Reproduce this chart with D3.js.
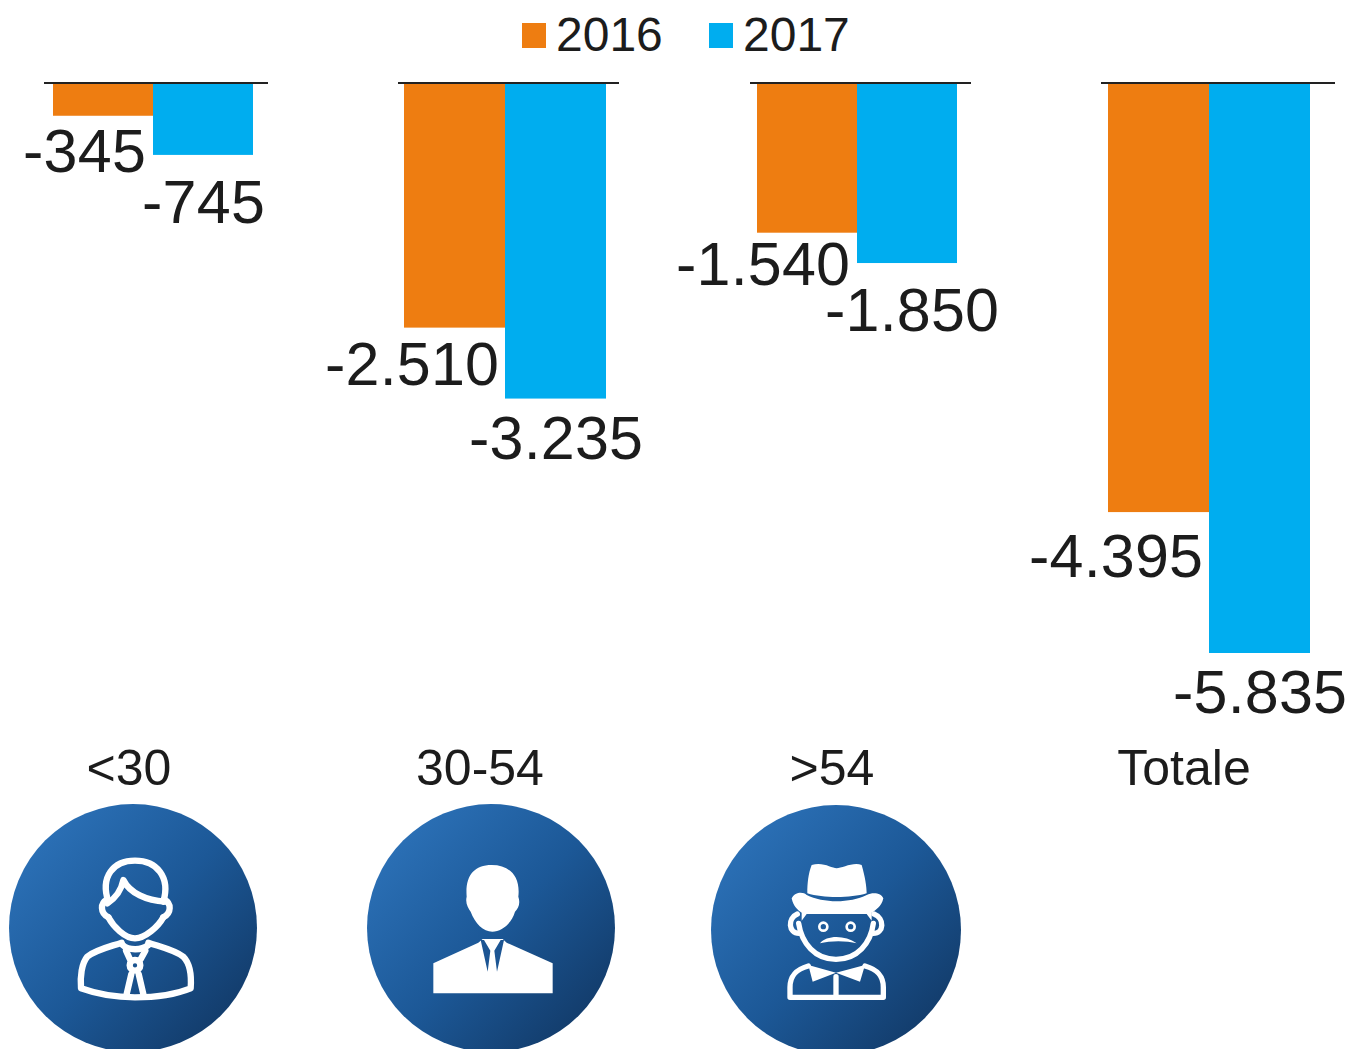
<!DOCTYPE html>
<html>
<head>
<meta charset="utf-8">
<script src="https://cdn.jsdelivr.net/npm/d3@7"></script>
<style>
  html, body { margin: 0; padding: 0; background: #fff; overflow: hidden; }
  svg { display: block; }
  text { font-family: "Liberation Sans", Arial, sans-serif; fill: #1c1c1c; }
</style>
</head>
<body>
<svg id="svg" width="1353" height="1049"></svg>
<script>
const categories = ['<30', '30-54', '>54', 'Totale'];
const years = ['2016', '2017'];
const values2016 = [-345, -2510, -1540, -4395];
const values2017 = [-745, -3235, -1850, -5835];

// layout, one entry per panel
const panelBars = [[53, 253], [404, 606], [757, 957], [1108, 1310]];
const panelLines = [[44, 268], [398, 619], [750, 971], [1101, 1335]];
const categoryX = [129, 480, 832, 1184];
// data labels were placed by hand in the original, [dx, dy] from the bar corner
const labelNudge2016 = [[-7, 56], [-6, 57], [-7, 52], [-6, 65]];
const labelNudge2017 = [[12, 68], [37, 60], [42, 68], [37, 60]];

const colors = d3.scaleOrdinal().domain(years).range(['#ee7d11', '#00adef']);
const fmt = d3.formatLocale({ decimal: ',', thousands: '.', grouping: [3], currency: ['', ''], minus: '-' }).format(',d');

const svg = d3.select('#svg');
const yScale = d3.scaleLinear().domain([0, -5835]).range([82, 653]);

const drawPanel = function(i) {
  const xScale = d3.scaleBand().domain(years).range(panelBars[i]);
  const g = svg.append('g').classed('panel', true);
  const rows = [
    { year: '2016', value: values2016[i], nudge: labelNudge2016[i] },
    { year: '2017', value: values2017[i], nudge: labelNudge2017[i] }
  ];

  g.selectAll('rect')
    .data(rows)
    .enter()
    .append('rect')
    .attr('x', d => xScale(d.year))
    .attr('y', yScale(0))
    .attr('width', xScale.bandwidth())
    .attr('height', d => yScale(d.value) - yScale(0))
    .attr('fill', d => colors(d.year));

  g.append('line')
    .attr('x1', panelLines[i][0])
    .attr('x2', panelLines[i][1])
    .attr('y1', 83)
    .attr('y2', 83)
    .attr('stroke', '#222')
    .attr('stroke-width', 2);

  g.selectAll('text')
    .data(rows)
    .enter()
    .append('text')
    .attr('x', d => xScale(d.year) + xScale.bandwidth() + d.nudge[0])
    .attr('y', d => yScale(d.value) + d.nudge[1])
    .attr('text-anchor', 'end')
    .attr('font-size', 61)
    .attr('textLength', d => fmt(d.value).length === 4 ? 123 : 174)
    .text(d => fmt(d.value));

  svg.append('text')
    .attr('x', categoryX[i])
    .attr('y', 785)
    .attr('text-anchor', 'middle')
    .attr('font-size', 50)
    .text(categories[i]);
};

const drawLegend = function() {
  const legend = svg.append('g').classed('legend', true);
  const swatchX = d3.scaleOrdinal().domain(years).range([522, 709]);
  legend.selectAll('rect')
    .data(years)
    .enter()
    .append('rect')
    .attr('x', d => swatchX(d))
    .attr('y', 23)
    .attr('width', 24)
    .attr('height', 25)
    .attr('fill', d => colors(d));
  legend.selectAll('text')
    .data(years)
    .enter()
    .append('text')
    .attr('x', d => swatchX(d) + 34)
    .attr('y', 51)
    .attr('font-size', 48)
    .text(d => d);
};

const drawBadges = function() {
  const grad = svg.append('defs')
    .append('linearGradient')
    .attr('id', 'badge')
    .attr('x1', 0.1).attr('y1', 0.15)
    .attr('x2', 0.9).attr('y2', 0.9);
  grad.append('stop').attr('offset', 0).attr('stop-color', '#2b70b6');
  grad.append('stop').attr('offset', 0.5).attr('stop-color', '#1c5897');
  grad.append('stop').attr('offset', 1).attr('stop-color', '#123a68');

  [[133, 928, 124], [491, 928, 124], [836, 930, 125]].forEach(c => {
    svg.append('circle')
      .attr('cx', c[0])
      .attr('cy', c[1])
      .attr('r', c[2])
      .attr('fill', 'url(#badge)');
  });

  // icon paths are in 3x coordinates of each badge's crop
  const icon = (x) => svg.append('g')
    .attr('transform', `translate(${x},790) scale(${1 / 3})`)
    .attr('fill', 'none')
    .attr('stroke', '#fff')
    .attr('stroke-width', 19)
    .attr('stroke-linejoin', 'round')
    .attr('stroke-linecap', 'round');

  const young = icon(0);
  [
    'M325 335C300 260 340 212 405 212C470 212 512 260 490 335',
    'M322 340C350 322 365 295 370 270C390 310 440 332 495 335',
    'M322 328C300 340 300 368 325 382M492 328C515 340 515 368 490 382',
    'M325 382C340 410 375 445 405 445C435 445 475 410 490 382',
    'M365 458C330 470 285 480 262 500C245 520 240 560 243 595C290 612 340 622 405 622C470 622 530 612 572 595C575 555 570 520 550 500C525 480 480 470 445 458',
    'M368 465C385 482 425 482 445 465',
    'M380 612L394 552M430 612L416 552M378 482L390 508M436 482L422 508'
  ].forEach(d => young.append('path').attr('d', d));
  young.append('circle').attr('cx', 405).attr('cy', 526).attr('r', 16);

  const adult = icon(350).attr('fill', '#fff').attr('stroke', 'none');
  adult.append('path').attr('d', 'M425 225C370 225 345 260 350 320C345 340 355 355 362 365C375 400 400 425 427 425C455 425 485 400 495 365C505 355 512 340 505 320C512 260 480 225 425 225Z');
  adult.append('path').attr('d', 'M250 520L385 458L398 447L458 447L470 458L608 520L608 610L250 610Z');
  adult.append('path').attr('fill', '#1c5593').attr('d', 'M392 450L413 545L421 482L402 450ZM462 450L441 545L433 482L452 450Z');

  const senior = icon(700);
  senior.append('path').attr('fill', '#fff').attr('stroke', 'none')
    .attr('d', 'M335 225C370 215 395 235 410 235C425 235 460 215 485 225C495 260 500 290 500 310C450 325 370 325 322 310C322 280 325 250 335 225Z');
  senior.append('path').attr('fill', '#fff').attr('stroke', 'none')
    .attr('d', 'M275 325C285 305 310 305 320 315C370 340 450 340 500 315C520 305 545 310 550 325C545 350 525 362 515 368L515 392L500 372L320 372L305 392L305 368C295 362 280 350 275 325Z');
  senior.append('path').attr('fill', '#fff').attr('stroke', 'none')
    .attr('d', 'M360 460C380 435 435 435 470 460C440 452 390 452 360 460Z');
  senior.append('path').attr('fill', '#fff').attr('stroke', 'none')
    .attr('d', 'M325 525L338 575L408 548L480 575L495 525L408 548Z');
  [
    'M292 372C262 385 265 430 297 430M522 372C555 385 552 430 520 430',
    'M296 400C305 460 345 508 408 508C472 508 512 460 520 400',
    'M325 528C290 538 270 555 270 592L270 622L550 622L550 592C550 555 530 538 495 528',
    'M408 560L408 622'
  ].forEach(d => senior.append('path').attr('d', d).attr('stroke-width', 16));
  [370, 452].forEach(x => {
    senior.append('circle').attr('cx', x).attr('cy', 410).attr('r', 12).attr('stroke-width', 8);
  });
};

d3.range(categories.length).forEach(drawPanel);
drawLegend();
drawBadges();
</script>
</body>
</html>
